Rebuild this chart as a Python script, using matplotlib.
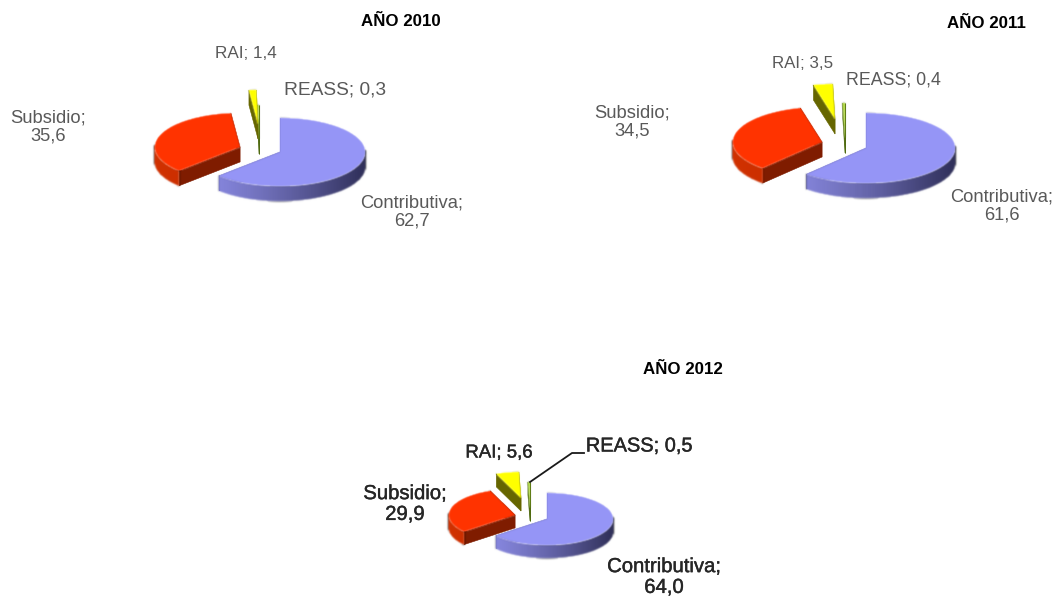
import numpy as np
import matplotlib
matplotlib.use("Agg")
import matplotlib.pyplot as plt
import matplotlib.patheffects as pe
from matplotlib.patches import Polygon
from matplotlib.collections import PolyCollection
from matplotlib.colors import to_rgb

plt.rcParams['font.family'] = ['Liberation Sans', 'DejaVu Sans']

# ---- data ----
years = ["AÑO 2010", "AÑO 2011", "AÑO 2012"]
categories = ["Contributiva", "Subsidio", "RAI", "REASS"]
values_2010 = [62.7, 35.6, 1.4, 0.3]
values_2011 = [61.6, 34.5, 3.5, 0.4]
values_2012 = [64.0, 29.9, 5.6, 0.5]
labels_2010 = ["Contributiva;\n62,7", "Subsidio;\n35,6", "RAI; 1,4", "REASS; 0,3"]
labels_2011 = ["Contributiva;\n61,6", "Subsidio;\n34,5", "RAI; 3,5", "REASS; 0,4"]
labels_2012 = ["Contributiva;\n64,0", "Subsidio;\n29,9", "RAI; 5,6", "REASS; 0,5"]

# ---- layout / style ----
W, H = 1057, 599
TOP = ["#9595F6", "#FF3300", "#FFFF00", "#A6D22E"]
RADIAL = ["#6A6AB0", "#7F1C00", "#666600", "#4F6A10"]
ARC_L = ["#8C8CE6", "#D03000", "#808000", "#5F7A18"]
ARC_R = ["#2F2F58", "#A02400", "#666600", "#4F6A10"]

charts = [
    dict(vals=values_2010, labs=labels_2010, title=years[0], title_xy=(401, 22),
         rx=85, ry=34, depth=15, text="#595959", stroke=0,
         apex=[(280, 152), (240, 147), (258, 124), (259, 139)],
         lab_xy=[(412, 212), (48, 127), (246, 53), (335, 90)],
         sizes=[13.2, 13.2, 12.3, 13.8]),
    dict(vals=values_2011, labs=labels_2011, title=years[1], title_xy=(986, 23),
         rx=89, ry=35, depth=15, text="#595959", stroke=0,
         apex=[(866, 148), (822, 142), (835, 119), (845, 138)],
         lab_xy=[(1002, 206), (632, 122), (803, 63), (893, 80)],
         sizes=[13.2, 13.2, 12.2, 12.8]),
    dict(vals=values_2012, labs=labels_2012, title=years[2], title_xy=(683, 369),
         rx=66, ry=26, depth=13, text="#262626", stroke=0.3,
         apex=[(547, 519), (515, 515), (521, 498), (530, 508)],
         lab_xy=[(664, 577), (405, 504), (499, 453), (639, 446)],
         sizes=[14.6, 14.6, 13.4, 14.4]),
]
LEADER = ([530, 572, 584], [482, 453, 453])

fig = plt.figure(figsize=(W / 100, H / 100), dpi=100, facecolor="white")
ax = fig.add_axes([0, 0, 1, 1])
ax.set_xlim(0, W)
ax.set_ylim(H, 0)
ax.axis("off")


def soften(image, dpi):
    """Small blur: the reference is a soft, upscaled screenshot."""
    pad = 3
    a = np.pad(image, ((pad, pad), (pad, pad), (0, 0)), mode="constant")
    kernel = np.array([0.2, 0.6, 0.2])
    for axis in (0, 1):
        a = np.apply_along_axis(lambda v: np.convolve(v, kernel, mode="same"), axis, a)
    return a, -pad, -pad


def pt(apex, rx, ry, deg):
    t = np.radians(deg)
    return apex[0] + rx * np.sin(t), apex[1] - ry * np.cos(t)


def slice3d(apex, a0, a1, rx, ry, d, i, z):
    th = np.linspace(a0, a1, max(int(a1 - a0) * 2, 4))
    xs, ys = pt(apex, rx, ry, th)
    # radial faces
    for a in (a0, a1):
        px, py = pt(apex, rx, ry, a)
        p = Polygon([apex, (px, py), (px, py + d), (apex[0], apex[1] + d)],
                    fc=RADIAL[i], ec=RADIAL[i], lw=0.4, zorder=z)
        ax.add_patch(p)
    # outer rim, shaded from left to right
    cl, cr = np.array(to_rgb(ARC_L[i])), np.array(to_rgb(ARC_R[i]))
    quads, cols = [], []
    for k in range(len(th) - 1):
        if np.cos(np.radians(th[k])) > 0.05 and np.cos(np.radians(th[k + 1])) > 0.05:
            continue
        f = np.clip((xs[k] - (apex[0] - rx)) / (2 * rx), 0, 1) ** 1.3
        quads.append([(xs[k], ys[k]), (xs[k + 1], ys[k + 1]),
                      (xs[k + 1], ys[k + 1] + d), (xs[k], ys[k] + d)])
        cols.append(cl + (cr - cl) * f)
    if quads:
        rim = PolyCollection(quads, facecolors=cols, edgecolors=cols, linewidths=0.5,
                             zorder=z + 0.1)
        rim.set_agg_filter(soften)
        ax.add_collection(rim)
    # top surface
    top = Polygon(np.vstack([[apex], np.column_stack([xs, ys])]),
                  fc=TOP[i], ec=TOP[i], lw=0.3, zorder=z + 0.2)
    top.set_agg_filter(soften)
    ax.add_patch(top)


for c in charts:
    shares = np.array(c["vals"], dtype=float)
    edges = np.concatenate([[0], np.cumsum(shares) / shares.sum() * 360])
    for i in (3, 2, 1, 0):
        slice3d(c["apex"][i], edges[i], edges[i + 1], c["rx"], c["ry"], c["depth"], i, 3 - i + 1)
    for lab, (x, y), fs in zip(c["labs"], c["lab_xy"], c["sizes"]):
        t = ax.text(x, y, lab, ha="center", va="center", fontsize=fs, color=c["text"],
                    linespacing=1.12, zorder=10)
        if c["stroke"]:
            t.set_path_effects([pe.withStroke(linewidth=c["stroke"], foreground=c["text"])])
    ax.text(*c["title_xy"], c["title"], ha="center", va="center", fontsize=12.2,
            weight="bold", color="black", zorder=10)

ax.plot(*LEADER, color="#1a1a1a", lw=1.3, zorder=9)

fig.savefig("out.png", dpi=100, facecolor="white")
